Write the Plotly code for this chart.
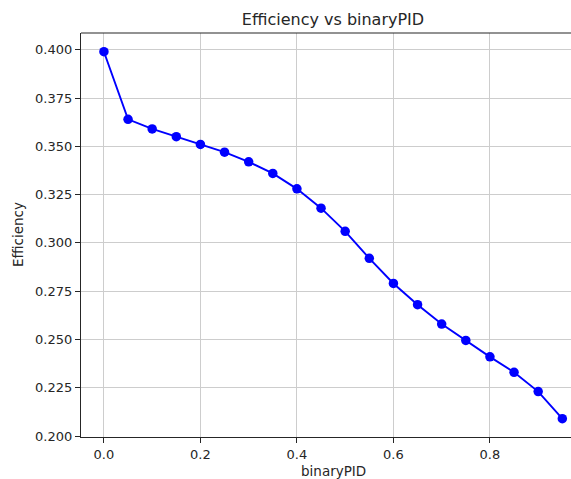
import plotly.graph_objects as go

binary_pid = [0.00, 0.05, 0.10, 0.15, 0.20, 0.25, 0.30, 0.35, 0.40, 0.45,
              0.50, 0.55, 0.60, 0.65, 0.70, 0.75, 0.80, 0.85, 0.90, 0.95]
efficiency = [0.399, 0.364, 0.359, 0.355, 0.351, 0.347, 0.342, 0.336, 0.328, 0.318,
              0.306, 0.292, 0.279, 0.268, 0.258, 0.2495, 0.241, 0.233, 0.223, 0.209]
x_ticks = [0.0, 0.2, 0.4, 0.6, 0.8]
x_tick_labels = ["0.0", "0.2", "0.4", "0.6", "0.8"]
y_ticks = [0.200, 0.225, 0.250, 0.275, 0.300, 0.325, 0.350, 0.375, 0.400]
y_tick_labels = ["0.200", "0.225", "0.250", "0.275", "0.300", "0.325", "0.350", "0.375", "0.400"]

W, H = 571, 479
L, R, T, B = 81, 0, 33, 42

fig = go.Figure()
fig.add_trace(go.Scatter(
    x=binary_pid, y=efficiency, mode="lines+markers",
    line=dict(color="#0000ff", width=1.9),
    marker=dict(color="#0000ff", size=9.5),
    showlegend=False,
    cliponaxis=False,
))

font = "DejaVu Sans, sans-serif"
txt = "#262626"
axis_common = dict(
    showgrid=True, gridcolor="#cdcdcd", gridwidth=1.1,
    zeroline=False, showline=True, linecolor="#262626", linewidth=1.2,
    ticks="outside", ticklen=5, tickwidth=1.1, tickcolor="#262626",
    tickfont=dict(family=font, size=13, color=txt),
)
fig.update_xaxes(range=[-0.0475, 0.968], tickvals=x_ticks, ticktext=x_tick_labels, **axis_common)
fig.update_yaxes(range=[0.1995, 0.4087], tickvals=y_ticks, ticktext=y_tick_labels, **axis_common)

fig.add_shape(type="line", xref="paper", yref="paper", x0=0, x1=1, y0=1, y1=1,
              line=dict(color="#262626", width=1.2))

fig.update_layout(
    width=W, height=H,
    margin=dict(l=L, r=R, t=T, b=B, pad=0),
    plot_bgcolor="white", paper_bgcolor="white",
    title=dict(text="Efficiency vs binaryPID", x=333 / W, xanchor="center",
               y=1 - 19 / H, yanchor="middle",
               font=dict(family=font, size=16, color=txt)),
    annotations=[
        dict(text="binaryPID", xref="paper", yref="paper",
             x=(333 - L) / (W - L), y=-(471 - 437) / (H - T - B),
             xanchor="center", yanchor="middle", showarrow=False,
             font=dict(family=font, size=13.5, color=txt)),
        dict(text="Efficiency", xref="paper", yref="paper",
             x=-(81 - 18) / (W - L), y=0.5, textangle=-90,
             xanchor="center", yanchor="middle", showarrow=False,
             font=dict(family=font, size=13.5, color=txt)),
    ],
)

fig.write_html("out.html", config={"displayModeBar": False},
               post_script="document.body.style.margin='0';document.body.style.overflow='hidden';")
